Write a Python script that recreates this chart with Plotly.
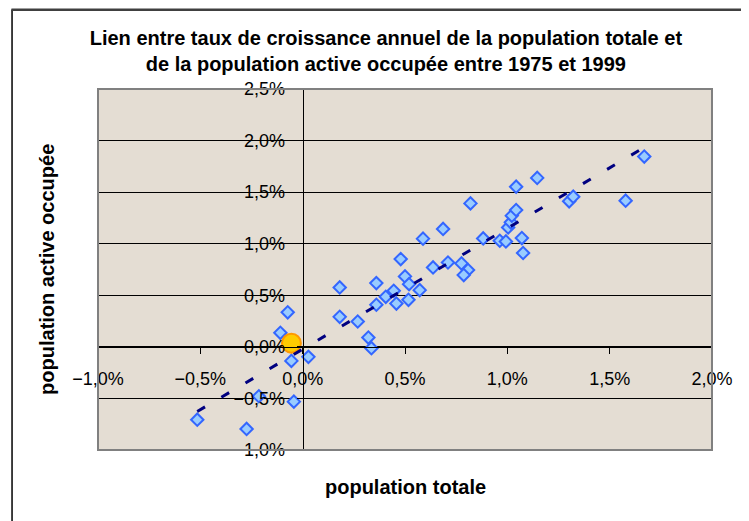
import numpy as np
import plotly.graph_objects as go

# Taux de croissance annuels (en %), 1975-1999
pop_totale = [-0.515, -0.274, -0.214, -0.043, -0.055, 0.028, -0.109, -0.073,
              0.181, 0.181, 0.269, 0.321, 0.336, 0.360, 0.360, 0.406, 0.445,
              0.458, 0.500, 0.517, 0.520, 0.572, 0.479, 0.588, 0.637, 0.686,
              0.710, 0.776, 0.808, 0.787, 0.820, 0.882, 0.963, 0.993, 1.004,
              1.017, 1.022, 1.043, 1.043, 1.071, 1.077, 1.146, 1.302, 1.322,
              1.578, 1.669]
pop_active = [-0.706, -0.796, -0.479, -0.531, -0.136, -0.097, 0.136, 0.335,
              0.291, 0.576, 0.246, 0.090, -0.013, 0.408, 0.618, 0.485, 0.544,
              0.420, 0.683, 0.456, 0.608, 0.550, 0.851, 1.049, 0.770, 1.143,
              0.818, 0.809, 0.745, 0.696, 1.391, 1.051, 1.029, 1.022, 1.158,
              1.207, 1.272, 1.327, 1.553, 1.055, 0.910, 1.638, 1.411, 1.456,
              1.417, 1.845]
point_orange_x = [-0.055]
point_orange_y = [0.036]

x_range = [-1.0, 2.0]
y_range = [-1.0, 2.5]
tick_step = 0.5

title_text = ("Lien entre taux de croissance annuel de la population totale et<br>"
              "de la population active occupée entre 1975 et 1999")
x_title = "population totale"
y_title = "population active occupée"

FONT = "Arial, Liberation Sans, sans-serif"

fig = go.Figure()
fig.add_trace(go.Scatter(
    x=pop_totale, y=pop_active, mode="markers",
    marker=dict(symbol="diamond", size=9.5, color="#99CCFF",
                line=dict(color="#3366FF", width=2)),
    showlegend=False, hoverinfo="x+y"))
fig.add_trace(go.Scatter(
    x=point_orange_x, y=point_orange_y, mode="markers",
    marker=dict(symbol="circle", size=19, color="#FFCC00",
                line=dict(color="#FF9900", width=2)),
    showlegend=False))

slope, intercept = np.polyfit(pop_totale, pop_active, 1)
xt = np.array([min(pop_totale), max(pop_totale)])
fig.add_trace(go.Scatter(
    x=xt, y=slope * xt + intercept, mode="lines",
    line=dict(color="#000080", width=3, dash="9px,19px"),
    showlegend=False, hoverinfo="skip"))

y0_pos = (0 - y_range[0]) / (y_range[1] - y_range[0])
x0_pos = (0 - x_range[0]) / (x_range[1] - x_range[0])

fig.update_layout(
    width=741, height=513,
    margin=dict(l=90, r=37, t=81, b=71),
    paper_bgcolor="white",
    plot_bgcolor="#E4DDD3",
    separators=",.",
    font=dict(family=FONT, size=18, color="black"),
    title=dict(text=title_text, x=0.510, xanchor="center",
               y=0.928, yanchor="top",
               font=dict(family=FONT, size=20, color="black", weight="bold")),
    xaxis=dict(range=x_range, dtick=tick_step, tick0=0, tickformat=".1f",
               ticksuffix="%", anchor="free", position=y0_pos,
               showline=True, linecolor="black", linewidth=1,
               ticks="outside", ticklen=6, tickcolor="black", tickwidth=1,
               showgrid=False, zeroline=False, ticklabelstandoff=10,
               tickfont=dict(size=18)),
    yaxis=dict(range=y_range, dtick=tick_step, tick0=0, tickformat=".1f",
               ticksuffix="%", anchor="free", position=x0_pos,
               showline=True, linecolor="black", linewidth=1,
               ticks="outside", ticklen=6, tickcolor="black", tickwidth=1,
               showgrid=True, gridcolor="black", gridwidth=1,
               zeroline=False, ticklabelstandoff=8,
               tickfont=dict(size=18)),
    shapes=[
        dict(type="rect", xref="paper", yref="paper", x0=0, x1=1, y0=0, y1=1,
             line=dict(color="#808080", width=2), layer="above"),
        dict(type="line", xref="paper", yref="paper", x0=-0.140, x1=-0.140,
             y0=1.22, y1=-0.3, line=dict(color="black", width=1.5)),
        dict(type="line", xref="paper", yref="paper", x0=-0.141, x1=1.1,
             y0=1.2195, y1=1.2195, line=dict(color="#404040", width=2.5)),
    ],
    annotations=[
        dict(text=x_title, xref="paper", yref="paper", x=0.5, y=-0.1025,
             xanchor="center", yanchor="middle", showarrow=False,
             font=dict(family=FONT, size=20, color="black", weight="bold")),
        dict(text=y_title, xref="paper", yref="paper", x=-0.083, y=0.499,
             xanchor="center", yanchor="middle", showarrow=False, textangle=-90,
             font=dict(family=FONT, size=20, color="black", weight="bold")),
    ],
)

fig.write_html("out.html")
